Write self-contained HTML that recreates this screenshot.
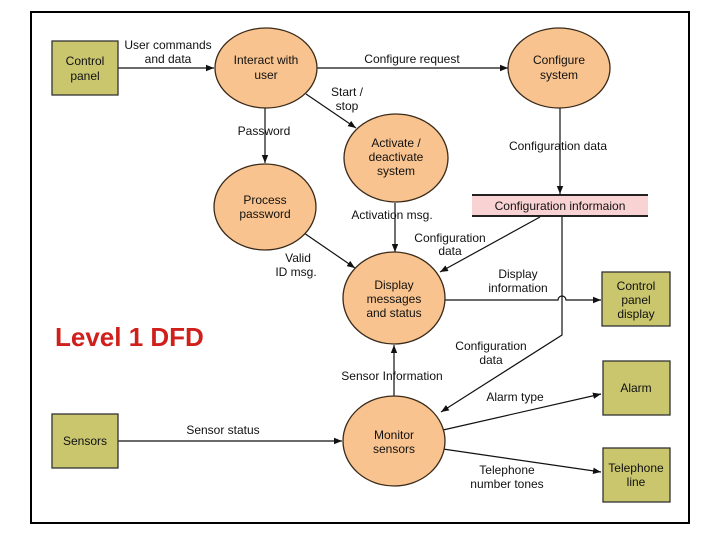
<!DOCTYPE html>
<html><head><meta charset="utf-8"><style>
html,body{margin:0;padding:0;background:#fff;}
svg{display:block;}
text{font-family:"Liberation Sans",sans-serif;font-size:12px;fill:#111;text-anchor:middle;}
.e{fill:#f8c38e;stroke:#3a2a1a;stroke-width:1.3;}
.b{fill:#c9c66e;stroke:#333;stroke-width:1.3;}
.l{stroke:#111;stroke-width:1.2;fill:none;}
</style></head><body>
<svg width="720" height="540" viewBox="0 0 720 540">
<defs>
<marker id="a" viewBox="0 0 10 10" refX="10" refY="5" markerWidth="8" markerHeight="8" orient="auto-start-reverse" markerUnits="userSpaceOnUse"><path d="M0,1 L10,5 L0,9 z" fill="#111"/></marker>
</defs>
<rect x="31" y="12" width="658" height="511" fill="none" stroke="#000" stroke-width="2"/>

<line class="l" x1="118" y1="68" x2="214" y2="68" marker-end="url(#a)"/>
<line class="l" x1="317" y1="68" x2="508" y2="68" marker-end="url(#a)"/>
<line class="l" x1="306" y1="94" x2="356" y2="128" marker-end="url(#a)"/>
<line class="l" x1="265" y1="108" x2="265" y2="163" marker-end="url(#a)"/>
<line class="l" x1="560" y1="108" x2="560" y2="194" marker-end="url(#a)"/>
<line class="l" x1="304" y1="233" x2="355" y2="268" marker-end="url(#a)"/>
<line class="l" x1="395" y1="203" x2="395" y2="252" marker-end="url(#a)"/>
<line class="l" x1="540" y1="217" x2="440" y2="272" marker-end="url(#a)"/>
<path class="l" d="M445,300 L558,300 A4,4 0 0 1 566,300 L601,300" marker-end="url(#a)"/>
<path class="l" d="M562,217 L562,335 L441,412" marker-end="url(#a)"/>
<line class="l" x1="394" y1="396" x2="394" y2="345" marker-end="url(#a)"/>
<line class="l" x1="118" y1="441" x2="342" y2="441" marker-end="url(#a)"/>
<line class="l" x1="443" y1="430" x2="601" y2="394" marker-end="url(#a)"/>
<line class="l" x1="443" y1="449" x2="601" y2="472" marker-end="url(#a)"/>

<rect class="b" x="52" y="41" width="66" height="54"/>
<rect class="b" x="602" y="272" width="68" height="54"/>
<rect class="b" x="603" y="361" width="67" height="54"/>
<rect class="b" x="603" y="448" width="67" height="54"/>
<rect class="b" x="52" y="414" width="66" height="54"/>
<text x="85" y="65">Control</text><text x="85" y="80">panel</text>
<text x="636" y="290">Control</text><text x="636" y="304">panel</text><text x="636" y="318">display</text>
<text x="636" y="392">Alarm</text>
<text x="636" y="472">Telephone</text><text x="636" y="486">line</text>
<text x="85" y="445">Sensors</text>

<rect x="472" y="195" width="176" height="21" fill="#f9d2d3"/>
<line x1="472" y1="195" x2="648" y2="195" stroke="#222" stroke-width="2"/>
<line x1="472" y1="216" x2="648" y2="216" stroke="#222" stroke-width="2"/>
<text x="560" y="210">Configuration informaion</text>

<ellipse class="e" cx="266" cy="68" rx="51" ry="40"/>
<text x="266" y="64">Interact with</text><text x="266" y="79">user</text>
<ellipse class="e" cx="559" cy="68" rx="51" ry="40"/>
<text x="559" y="64">Configure</text><text x="559" y="79">system</text>
<ellipse class="e" cx="396" cy="158" rx="52" ry="44"/>
<text x="396" y="147">Activate /</text><text x="396" y="161">deactivate</text><text x="396" y="175">system</text>
<ellipse class="e" cx="265" cy="207" rx="51" ry="43"/>
<text x="265" y="204">Process</text><text x="265" y="218">password</text>
<ellipse class="e" cx="394" cy="298" rx="51" ry="46"/>
<text x="394" y="289">Display</text><text x="394" y="303">messages</text><text x="394" y="317">and status</text>
<ellipse class="e" cx="394" cy="441" rx="51" ry="45"/>
<text x="394" y="439">Monitor</text><text x="394" y="453">sensors</text>

<text x="168" y="49">User commands</text><text x="168" y="63">and data</text>
<text x="412" y="63">Configure request</text>
<text x="347" y="96">Start /</text><text x="347" y="110">stop</text>
<text x="264" y="135">Password</text>
<text x="558" y="150">Configuration data</text>
<text x="298" y="262">Valid</text><text x="296" y="276">ID msg.</text>
<text x="392" y="219">Activation msg.</text>
<text x="450" y="242">Configuration</text><text x="450" y="255">data</text>
<text x="518" y="278">Display</text><text x="518" y="292">information</text>
<text x="491" y="350">Configuration</text><text x="491" y="364">data</text>
<text x="392" y="380">Sensor Information</text>
<text x="223" y="434">Sensor status</text>
<text x="515" y="401">Alarm type</text>
<text x="507" y="474">Telephone</text><text x="507" y="488">number tones</text>

<text x="55" y="346" style="font-size:26px;font-weight:bold;fill:#d0201c;text-anchor:start">Level 1 DFD</text>
</svg>
</body></html>
